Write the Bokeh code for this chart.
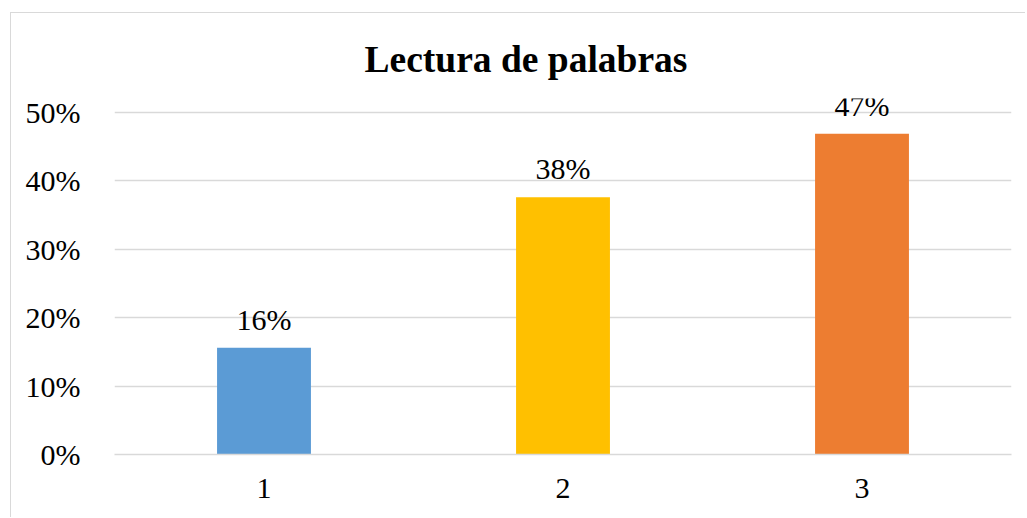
from bokeh.plotting import figure
from bokeh.models import ColumnDataSource, FactorRange, Range1d, FixedTicker, LabelSet, PrintfTickFormatter
from bokeh.embed import file_html
from bokeh.resources import INLINE

categories = ["1", "2", "3"]
values = [15.6, 37.6, 46.9]
colors = ["#5B9BD5", "#FFC000", "#ED7D31"]
labels = [f"{round(v)}%" for v in values]
y_ticks = [0, 10, 20, 30, 40, 50]
title = "Lectura de palabras"

FONT = "Liberation Serif"

src = ColumnDataSource(dict(cat=categories, val=values, color=colors, label=labels))

p = figure(
    x_range=FactorRange(*categories, range_padding=0),
    y_range=Range1d(0, 52.05),
    width=1015, height=505,
    output_backend="svg", toolbar_location=None,
    min_border_left=103, min_border_right=15, min_border_top=85, min_border_bottom=64,
    margin=(12, 0, 0, 10),
    styles={"border-left": "1px solid #d9d9d9", "border-top": "1px solid #d9d9d9"},
)
p.vbar(x="cat", top="val", width=0.314, color="color", source=src, line_color=None)

p.add_layout(LabelSet(x="cat", y="val", text="label", source=src, y_offset=18,
                      text_align="center", text_baseline="alphabetic",
                      text_font=FONT, text_font_size="30px", text_color="#000000"))

p.title.text = title
p.title.text_font = FONT
p.title.text_font_size = "37.5px"
p.title.text_font_style = "bold"
p.title.text_color = "#000000"
p.title.align = "left"
p.title.offset = 250
p.title.standoff = 38

p.outline_line_color = None
p.background_fill_color = "white"
p.border_fill_color = "white"

p.xgrid.grid_line_color = None
p.ygrid.grid_line_color = "#d9d9d9"
p.ygrid.grid_line_width = 1.3
p.yaxis.ticker = FixedTicker(ticks=y_ticks)
p.yaxis.formatter = PrintfTickFormatter(format="%d%%")

for ax in (p.xaxis, p.yaxis):
    ax.major_tick_line_color = None
    ax.minor_tick_line_color = None
    ax.major_label_text_font = FONT
    ax.major_label_text_font_size = "30px"
    ax.major_label_text_color = "#000000"
p.yaxis.axis_line_color = None
p.xaxis.axis_line_color = "#d9d9d9"
p.xaxis.axis_line_width = 1.3
p.yaxis.major_label_standoff = 28
p.xaxis.major_label_standoff = 18

open("out.html", "w").write(file_html(p, INLINE))
